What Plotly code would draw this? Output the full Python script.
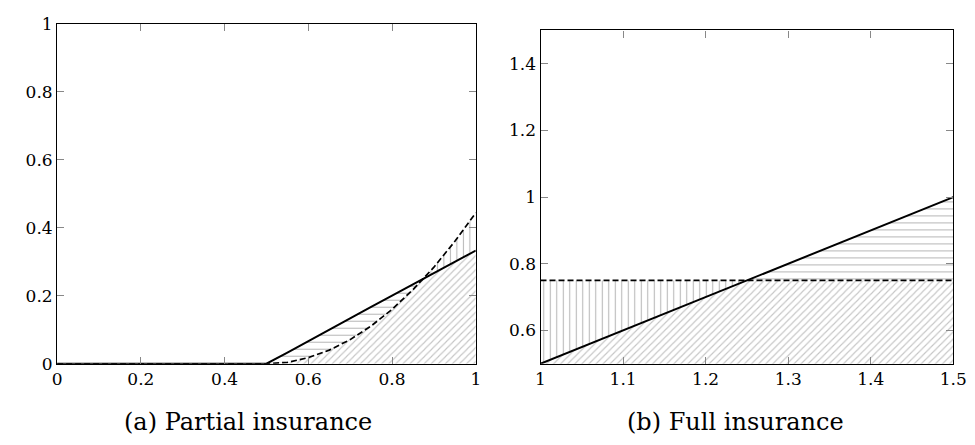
import plotly.graph_objects as go

# ---------------- data ----------------
# (a) Partial insurance
a_x = [0.0, 0.5, 0.55, 0.6, 0.65, 0.7, 0.75, 0.8, 0.85, 0.9, 0.95, 1.0]
a_solid = [0.0, 0.0, 0.033, 0.067, 0.1, 0.133, 0.167, 0.2, 0.233, 0.267, 0.3, 0.333]
a_dashed = [0.0, 0.0, 0.004, 0.018, 0.04, 0.071, 0.111, 0.16, 0.218, 0.284, 0.36, 0.444]

# (b) Full insurance
b_x = [1.0, 1.5]
b_solid = [0.5, 1.0]
b_dashed = [0.75, 0.75]

a_xticks = [0, 0.2, 0.4, 0.6, 0.8, 1]
a_xtext = ["0", "0.2", "0.4", "0.6", "0.8", "1"]
a_yticks = [0, 0.2, 0.4, 0.6, 0.8, 1]
a_ytext = ["0", "0.2", "0.4", "0.6", "0.8", "1"]
b_xticks = [1, 1.1, 1.2, 1.3, 1.4, 1.5]
b_xtext = ["1", "1.1", "1.2", "1.3", "1.4", "1.5"]
b_yticks = [0.6, 0.8, 1.0, 1.2, 1.4]
b_ytext = ["0.6", "0.8", "1", "1.2", "1.4"]

captions = ["(a) Partial insurance", "(b) Full insurance"]

FONT = "DejaVu Serif"


def with_crossings(x, a, b):
    """insert the crossing points of two polylines sampled on the same x."""
    xs, ys_a, ys_b = [x[0]], [a[0]], [b[0]]
    for i in range(1, len(x)):
        d0 = a[i - 1] - b[i - 1]
        d1 = a[i] - b[i]
        if d0 * d1 < 0:
            t = d0 / (d0 - d1)
            xc = x[i - 1] + t * (x[i] - x[i - 1])
            yc = a[i - 1] + t * (a[i] - a[i - 1])
            xs.append(xc); ys_a.append(yc); ys_b.append(yc)
        xs.append(x[i]); ys_a.append(a[i]); ys_b.append(b[i])
    return xs, ys_a, ys_b


fig = go.Figure()


def add_panel(x, solid, dashed, xa, ya):
    xs, s, d = with_crossings(x, solid, dashed)
    low = [min(p, q) for p, q in zip(s, d)]
    common = dict(xaxis=xa, yaxis=ya, showlegend=False, hoverinfo="skip")
    # diagonal hatch under the lower envelope
    fig.add_trace(go.Scatter(x=xs, y=low, mode="lines", line=dict(width=0),
                             fill="tozeroy", fillcolor="rgba(0,0,0,0)",
                             fillpattern=dict(shape="/", size=5, solidity=0.22,
                                              fgcolor="#8c8c8c", bgcolor="rgba(0,0,0,0)"),
                             **common))
    # horizontal hatch where solid is above dashed
    fig.add_trace(go.Scatter(x=xs, y=low, mode="lines", line=dict(width=0), **common))
    fig.add_trace(go.Scatter(x=xs, y=s, mode="lines", line=dict(width=0),
                             fill="tonexty", fillcolor="rgba(0,0,0,0)",
                             fillpattern=dict(shape="-", size=7, solidity=0.15,
                                              fgcolor="#6e6e6e", bgcolor="rgba(0,0,0,0)"),
                             **common))
    # vertical hatch where dashed is above solid
    fig.add_trace(go.Scatter(x=xs, y=low, mode="lines", line=dict(width=0), **common))
    fig.add_trace(go.Scatter(x=xs, y=d, mode="lines", line=dict(width=0),
                             fill="tonexty", fillcolor="rgba(0,0,0,0)",
                             fillpattern=dict(shape="|", size=6.5, solidity=0.16,
                                              fgcolor="#6e6e6e", bgcolor="rgba(0,0,0,0)"),
                             **common))
    # curves
    fig.add_trace(go.Scatter(x=x, y=dashed, mode="lines",
                             line=dict(color="black", width=1.7, dash="6px,3px"), **common))
    fig.add_trace(go.Scatter(x=x, y=solid, mode="lines",
                             line=dict(color="black", width=2), **common))


add_panel(a_x, a_solid, a_dashed, "x", "y")
add_panel(b_x, b_solid, b_dashed, "x2", "y2")

axis_common = dict(showgrid=False, zeroline=False, showline=True, linecolor="black",
                   linewidth=1.2, mirror="allticks", ticks="inside", ticklen=7,
                   tickwidth=1, tickcolor="#888888", ticklabeloverflow="allow",
                   tickfont=dict(family=FONT, size=17, color="black"))

W, H = 975, 445
fig.update_layout(
    width=W, height=H,
    margin=dict(l=0, r=0, t=0, b=0),
    paper_bgcolor="white", plot_bgcolor="white",
    font=dict(family=FONT, color="black"),
    xaxis=dict(domain=[45 / W, 472 / W], range=[0, 1], anchor="y",
               tickvals=a_xticks, ticktext=a_xtext, **axis_common),
    yaxis=dict(domain=[(H - 362) / H, (H - 6) / H], range=[0, 1], anchor="x",
               tickvals=a_yticks, ticktext=a_ytext, **axis_common),
    xaxis2=dict(domain=[538 / W, 959 / W], range=[1, 1.5], anchor="y2",
                tickvals=b_xticks, ticktext=b_xtext, **axis_common),
    yaxis2=dict(domain=[(H - 362) / H, (H - 13) / H], range=[0.5, 1.5], anchor="x2",
                tickvals=b_yticks, ticktext=b_ytext, **axis_common),
    annotations=[
        dict(text=captions[0], x=240 / W, y=(H - 423) / H, xref="paper", yref="paper",
             showarrow=False, xanchor="center", yanchor="middle",
             font=dict(family=FONT, size=24, color="black")),
        dict(text=captions[1], x=737 / W, y=(H - 423) / H, xref="paper", yref="paper",
             showarrow=False, xanchor="center", yanchor="middle",
             font=dict(family=FONT, size=24, color="black")),
    ],
)

fig.write_html("out.html")
